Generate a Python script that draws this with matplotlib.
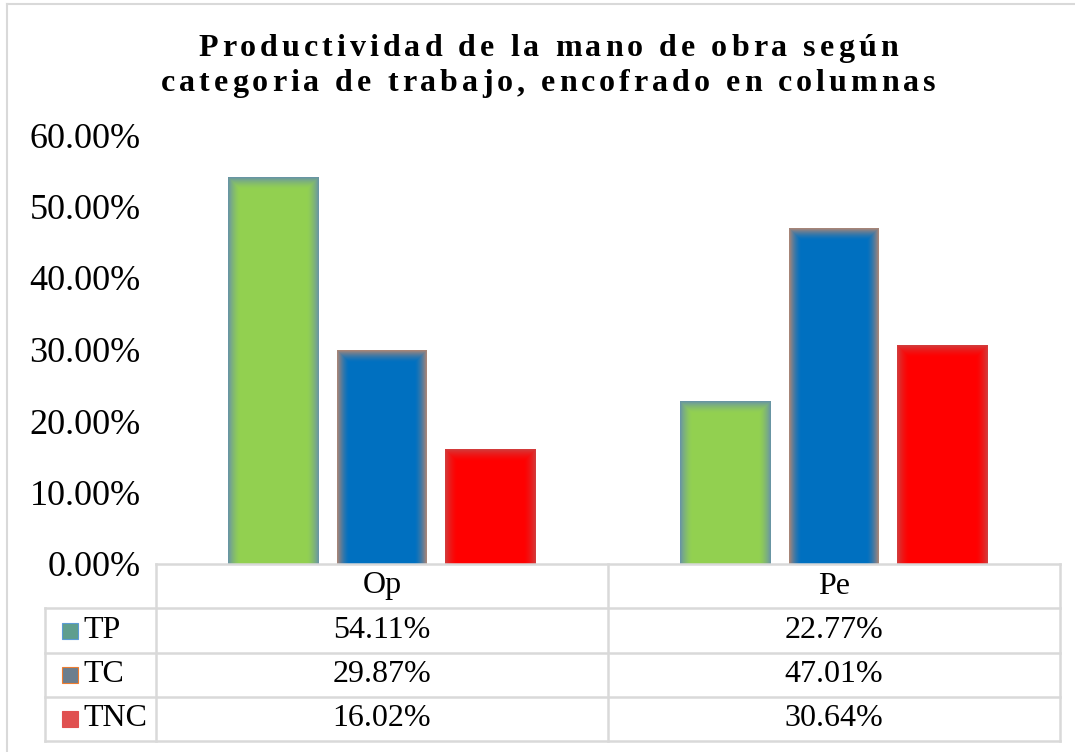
import numpy as np
import matplotlib
matplotlib.use('Agg')
import matplotlib.pyplot as plt
from matplotlib import transforms
from matplotlib.colors import to_rgb
from matplotlib.patches import Rectangle
from matplotlib.lines import Line2D

# Data
categories = ['Op', 'Pe']
series = ['TP', 'TC', 'TNC']
values = {
    'TP': [0.5411, 0.2277],
    'TC': [0.2987, 0.4701],
    'TNC': [0.1602, 0.3064],
}
yticks = [0.0, 0.1, 0.2, 0.3, 0.4, 0.5, 0.6]
title_lines = ['Productividad de la mano de obra según',
               'categoria de trabajo, encofrado en columnas']

face = {'TP': '#92D050', 'TC': '#0070C0', 'TNC': '#FF0000'}
glow = {'TP': '#5E86B8', 'TC': '#D08A66', 'TNC': '#C84848'}
keys = {'TP': '#5E9E8E', 'TC': '#6C7E8E', 'TNC': '#E05050'}
key_edge = {'TP': '#5B9BD5', 'TC': '#ED7D31', 'TNC': '#E05050'}

W, H = 1075, 752
SERIF = 'Liberation Serif'
GRID = '#D9D9D9'

fig = plt.figure(figsize=(W / 100, H / 100), dpi=100)


def fx(px):
    return px / W


def fy(py):
    return 1 - py / H


# plot area
ax = fig.add_axes([fx(156), fy(564), fx(1060) - fx(156), fy(135) - fy(564)])
ax.set_xlim(-0.5, len(categories) - 0.5)
ax.set_ylim(0, 0.6)
for s in ax.spines.values():
    s.set_visible(False)
ax.set_xticks([])
ax.set_yticks(yticks)
ax.set_yticklabels([f'{v * 100:.2f}%' for v in yticks], fontsize=26, family=SERIF)
ax.tick_params(axis='y', length=0, pad=11)

# bars with soft inner edge
bw = 0.2
step = 0.24
x = np.arange(len(categories))
px_x = (len(categories)) / (1060 - 156)
px_y = 0.6 / (564 - 135)
n = 12
for i, name in enumerate(series):
    xs = x + (i - 1) * step
    g = np.array(to_rgb(glow[name]))
    f = np.array(to_rgb(face[name]))
    for k in range(n + 1):
        a = 0.8 * (1 - k / n) ** 1.6
        col = g * a + f * (1 - a)
        d = k * 1.0
        ax.bar(xs, np.array(values[name]) - d * px_y, width=bw - 2 * d * px_x,
               color=col, linewidth=0)

# table


def hline(y, x0, x1):
    fig.add_artist(Line2D([fx(x0), fx(x1)], [fy(y), fy(y)], color=GRID, lw=1.8))


def vline(x_, y0, y1):
    fig.add_artist(Line2D([fx(x_), fx(x_)], [fy(y0), fy(y1)], color=GRID, lw=1.8))


rows_y = [564, 608, 653, 697, 741]
hline(rows_y[0], 156, 1060)
for yy in rows_y[1:]:
    hline(yy, 45, 1060)
vline(156, 564, 741)
vline(608, 564, 741)
vline(1060, 564, 741)
vline(45, 608, 741)

trans = transforms.blended_transform_factory(ax.transData, fig.transFigure)
for j, cat in enumerate(categories):
    fig.text(j, fy((rows_y[0] + rows_y[1]) / 2), cat, transform=trans,
             ha='center', va='center', fontsize=23, family=SERIF)
for i, name in enumerate(series):
    yc = fy((rows_y[i + 1] + rows_y[i + 2]) / 2)
    for j in range(len(categories)):
        fig.text(j, yc, f'{values[name][j] * 100:.2f}%', transform=trans,
                 ha='center', va='center', fontsize=23, family=SERIF)
    fig.add_artist(Rectangle((fx(62), yc - 8 / H), 16 / W, 16 / H,
                             facecolor=keys[name], edgecolor=key_edge[name], lw=0.8))
    fig.text(fx(83), yc, name, ha='left', va='center', fontsize=23, family=SERIF)

# outer border (chart area)
fig.add_artist(Line2D([fx(7), fx(7)], [fy(4), 0], color=GRID, lw=1.5))
fig.add_artist(Line2D([fx(7), 1], [fy(4), fy(4)], color=GRID, lw=1.5))

# letter-spaced bold title
renderer = fig.canvas.get_renderer()


def text_width(s, size):
    t = fig.text(0, 0, s, fontsize=size, fontweight='bold', family=SERIF)
    w = t.get_window_extent(renderer).width
    t.remove()
    return w


def spaced_title(s, xc, yb, size, spacing):
    base = text_width('||', size)
    widths = [text_width('|' + ch + '|', size) - base for ch in s]
    total = sum(widths) + spacing * (len(s) - 1)
    xpos = xc - total / 2
    for ch, w in zip(s, widths):
        fig.text(fx(xpos), fy(yb), ch, fontsize=size, fontweight='bold',
                 family=SERIF, ha='left', va='baseline')
        xpos += w + spacing


spaced_title(title_lines[0], 548, 56, 23, 4.0)
spaced_title(title_lines[1], 548, 91, 23, 4.0)

fig.savefig('out.png', dpi=100)
